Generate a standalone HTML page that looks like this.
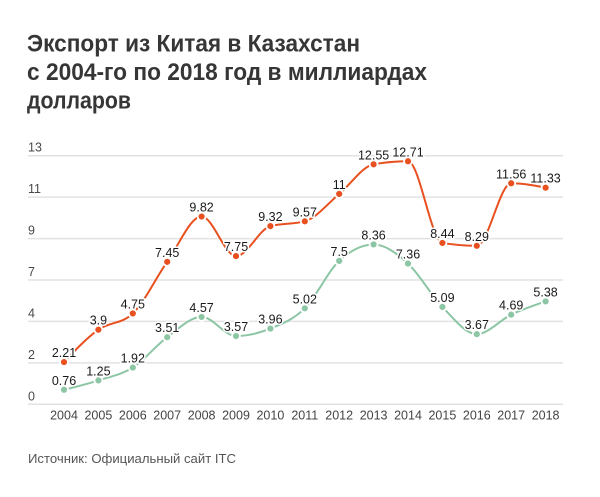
<!DOCTYPE html>
<html><head><meta charset="utf-8"><style>
html,body{margin:0;padding:0;background:#fff;}
svg{display:block;}
</style></head><body>
<svg width="600" height="497" viewBox="0 0 600 497" xmlns="http://www.w3.org/2000/svg" font-family="'Liberation Sans', sans-serif">
<rect width="600" height="497" fill="#fff"/>
<g font-weight="bold" font-size="24" fill="#363636">
<text x="27" y="51.5" textLength="333" lengthAdjust="spacingAndGlyphs">Экспорт из Китая в Казахстан</text>
<text x="27" y="80" textLength="400" lengthAdjust="spacingAndGlyphs">с 2004-го по 2018 год в миллиардах</text>
<text x="27" y="108.5" textLength="104" lengthAdjust="spacingAndGlyphs">долларов</text>
</g>
<g stroke="#e2e2e2" stroke-width="1.5">
<line x1="28" x2="563" y1="155.7" y2="155.7"/>
<line x1="28" x2="563" y1="197.15" y2="197.15"/>
<line x1="28" x2="563" y1="238.6" y2="238.6"/>
<line x1="28" x2="563" y1="280" y2="280"/>
<line x1="28" x2="563" y1="321.4" y2="321.4"/>
<line x1="28" x2="563" y1="362.85" y2="362.85"/>
<line x1="28" x2="563" y1="404.3" y2="404.3"/>
</g>
<g font-size="12.5" fill="#4a4a4a">
<text x="28" y="151.7">13</text>
<text x="28" y="193.2">11</text>
<text x="28" y="234.6">9</text>
<text x="28" y="276">7</text>
<text x="28" y="317.4">4</text>
<text x="28" y="358.9">2</text>
<text x="28" y="400.3">0</text>
</g>
<g font-size="12.5" fill="#444" text-anchor="middle">
<text x="64" y="419.5">2004</text>
<text x="98.4" y="419.5">2005</text>
<text x="132.8" y="419.5">2006</text>
<text x="167.2" y="419.5">2007</text>
<text x="201.6" y="419.5">2008</text>
<text x="236" y="419.5">2009</text>
<text x="270.4" y="419.5">2010</text>
<text x="304.8" y="419.5">2011</text>
<text x="339.2" y="419.5">2012</text>
<text x="373.6" y="419.5">2013</text>
<text x="408" y="419.5">2014</text>
<text x="442.4" y="419.5">2015</text>
<text x="476.8" y="419.5">2016</text>
<text x="511.2" y="419.5">2017</text>
<text x="545.6" y="419.5">2018</text>
</g>
<g transform="translate(64,404.3) scale(34.4,-19.12)" fill="none" stroke-width="2" stroke-linejoin="round" stroke-linecap="round">
<path vector-effect="non-scaling-stroke" stroke="#e8501f" d="M0,2.21 C0.3333,2.8433 0.6667,3.4767 1,3.9 C1.3333,4.3233 1.6667,4.1833 2,4.75 C2.3333,5.3167 2.6667,6.605 3,7.45 C3.3333,8.295 3.6667,9.82 4,9.82 C4.3333,9.82 4.6667,7.75 5,7.75 C5.3333,7.75 5.6667,9.1533 6,9.32 C6.3333,9.4867 6.6667,9.4033 7,9.57 C7.3333,9.7367 7.6667,10.5033 8,11 C8.3333,11.4967 8.6667,12.4433 9,12.55 C9.3333,12.6567 9.6667,12.71 10,12.71 C10.3333,12.71 10.6667,8.54 11,8.44 C11.3333,8.34 11.6667,8.29 12,8.29 C12.3333,8.29 12.6667,11.56 13,11.56 C13.3333,11.56 13.6667,11.445 14,11.33"/>
<path vector-effect="non-scaling-stroke" stroke="#8cc6a4" d="M0,0.76 C0.3333,0.9083 0.6667,1.0567 1,1.25 C1.3333,1.4433 1.6667,1.5433 2,1.92 C2.3333,2.2967 2.6667,3.0683 3,3.51 C3.3333,3.9517 3.6667,4.57 4,4.57 C4.3333,4.57 4.6667,3.57 5,3.57 C5.3333,3.57 5.6667,3.7183 6,3.96 C6.3333,4.2017 6.6667,4.43 7,5.02 C7.3333,5.61 7.6667,6.9433 8,7.5 C8.3333,8.0567 8.6667,8.36 9,8.36 C9.3333,8.36 9.6667,7.905 10,7.36 C10.3333,6.815 10.6667,5.705 11,5.09 C11.3333,4.475 11.6667,3.67 12,3.67 C12.3333,3.67 12.6667,4.405 13,4.69 C13.3333,4.975 13.6667,5.1775 14,5.38"/>
</g>
<g stroke="#fff" stroke-width="1.8">
<g fill="#e8501f">
<circle cx="64" cy="362.05" r="4"/>
<circle cx="98.4" cy="329.73" r="4"/>
<circle cx="132.8" cy="313.48" r="4"/>
<circle cx="167.2" cy="261.86" r="4"/>
<circle cx="201.6" cy="216.54" r="4"/>
<circle cx="236" cy="256.12" r="4"/>
<circle cx="270.4" cy="226.10" r="4"/>
<circle cx="304.8" cy="221.32" r="4"/>
<circle cx="339.2" cy="193.98" r="4"/>
<circle cx="373.6" cy="164.35" r="4"/>
<circle cx="408" cy="161.28" r="4"/>
<circle cx="442.4" cy="242.93" r="4"/>
<circle cx="476.8" cy="245.80" r="4"/>
<circle cx="511.2" cy="183.27" r="4"/>
<circle cx="545.6" cy="187.67" r="4"/>
</g>
<g fill="#8cc6a4">
<circle cx="64" cy="389.77" r="4"/>
<circle cx="98.4" cy="380.40" r="4"/>
<circle cx="132.8" cy="367.59" r="4"/>
<circle cx="167.2" cy="337.19" r="4"/>
<circle cx="201.6" cy="316.92" r="4"/>
<circle cx="236" cy="336.04" r="4"/>
<circle cx="270.4" cy="328.58" r="4"/>
<circle cx="304.8" cy="308.32" r="4"/>
<circle cx="339.2" cy="260.90" r="4"/>
<circle cx="373.6" cy="244.46" r="4"/>
<circle cx="408" cy="263.58" r="4"/>
<circle cx="442.4" cy="306.98" r="4"/>
<circle cx="476.8" cy="334.13" r="4"/>
<circle cx="511.2" cy="314.63" r="4"/>
<circle cx="545.6" cy="301.43" r="4"/>
</g>
</g>
<g font-size="12.5" fill="#1a1a1a" text-anchor="middle" stroke="#fff" stroke-width="3" paint-order="stroke" stroke-linejoin="round">
<text x="64" y="357">2.21</text>
<text x="98.4" y="324.7">3.9</text>
<text x="132.8" y="308.5">4.75</text>
<text x="167.2" y="256.9">7.45</text>
<text x="201.6" y="211.5">9.82</text>
<text x="236" y="251.1">7.75</text>
<text x="270.4" y="221.1">9.32</text>
<text x="304.8" y="216.3">9.57</text>
<text x="339.2" y="189">11</text>
<text x="373.6" y="159.3">12.55</text>
<text x="408" y="156.3">12.71</text>
<text x="442.4" y="237.9">8.44</text>
<text x="476.8" y="240.8">8.29</text>
<text x="511.2" y="178.3">11.56</text>
<text x="545.6" y="182.7">11.33</text>
<text x="64" y="384.8">0.76</text>
<text x="98.4" y="375.4">1.25</text>
<text x="132.8" y="362.6">1.92</text>
<text x="167.2" y="332.2">3.51</text>
<text x="201.6" y="311.9">4.57</text>
<text x="236" y="331">3.57</text>
<text x="270.4" y="323.6">3.96</text>
<text x="304.8" y="303.3">5.02</text>
<text x="339.2" y="255.9">7.5</text>
<text x="373.6" y="239.5">8.36</text>
<text x="408" y="258.6">7.36</text>
<text x="442.4" y="302">5.09</text>
<text x="476.8" y="329.1">3.67</text>
<text x="511.2" y="309.6">4.69</text>
<text x="545.6" y="296.4">5.38</text>
</g>
<text x="28" y="463" font-size="13" fill="#555" textLength="208" lengthAdjust="spacingAndGlyphs">Источник: Официальный сайт ITC</text>
</svg>
</body></html>
